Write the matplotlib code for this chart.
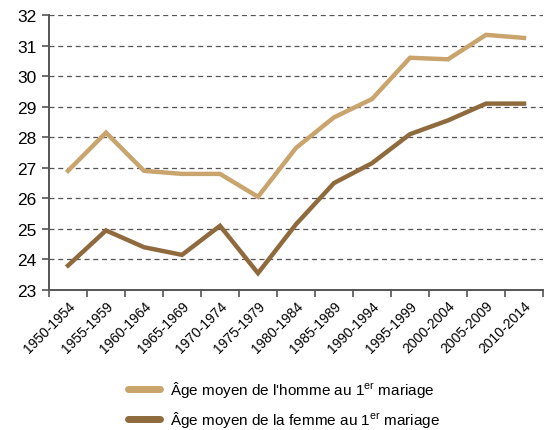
import matplotlib
matplotlib.use('Agg')
import matplotlib.pyplot as plt
from matplotlib import font_manager
import numpy as np

# Data
PERIODS = ['1950-1954', '1955-1959', '1960-1964', '1965-1969', '1970-1974',
           '1975-1979', '1980-1984', '1985-1989', '1990-1994', '1995-1999',
           '2000-2004', '2005-2009', '2010-2014']
AGE_MEN = [26.9, 28.15, 26.9, 26.8, 26.8, 26.05, 27.65, 28.65, 29.25, 30.6,
           30.55, 31.35, 31.25]
AGE_WOMEN = [23.8, 24.95, 24.4, 24.15, 25.1, 23.55, 25.15, 26.5, 27.15, 28.1,
             28.55, 29.1, 29.1]
LABEL_MEN = "Âge moyen de l'homme au 1$^{er}$ mariage"
LABEL_WOMEN = "Âge moyen de la femme au 1$^{er}$ mariage"

# Fonts: narrow sans if available
names = {f.name for f in font_manager.fontManager.ttflist}
family = 'Liberation Sans Narrow' if 'Liberation Sans Narrow' in names else 'Liberation Sans'
plt.rcParams['font.family'] = [family, 'DejaVu Sans']
plt.rcParams['mathtext.default'] = 'regular'

COL_MEN = '#c9a46d'
COL_WOMEN = '#8e6a3c'
AXIS_COL = '#555555'

fig = plt.figure(figsize=(5.49, 4.31), dpi=100)
ax = fig.add_axes([49/549, 1-291/431, (543-49)/549, (291-16)/431])

x = np.arange(len(PERIODS))
ax.plot(x, AGE_MEN, color=COL_MEN, lw=3.2, label=LABEL_MEN, solid_joinstyle='miter')
ax.plot(x, AGE_WOMEN, color=COL_WOMEN, lw=3.2, label=LABEL_WOMEN, solid_joinstyle='miter')

ax.set_xlim(-0.5, len(PERIODS)-0.5)
ax.set_ylim(23, 32)
ax.set_yticks(np.arange(23, 33, 1))
ax.yaxis.grid(True, linestyle=(0, (4, 3)), color='#555555', lw=0.9)
ax.set_axisbelow(True)

# tick marks at boundaries, labels at centres
ax.set_xticks(np.arange(-0.5, len(PERIODS), 1))
ax.set_xticklabels([])
ax.set_xticks(x, minor=True)
ax.set_xticklabels(PERIODS, minor=True, rotation=45, ha='right',
                   rotation_mode='anchor', fontsize=10)
ax.tick_params(axis='x', which='minor', length=0, pad=6)
ax.tick_params(axis='x', which='major', length=5, color=AXIS_COL, width=1.2)
ax.tick_params(axis='y', length=5, color=AXIS_COL, width=1.2, labelsize=12.5, pad=4)

for s in ['top', 'right']:
    ax.spines[s].set_visible(False)
for s in ['left', 'bottom']:
    ax.spines[s].set_color(AXIS_COL)
    ax.spines[s].set_linewidth(1.4)

leg = fig.legend(loc='lower left', bbox_to_anchor=(114/549, -0.03), frameon=False,
                 fontsize=11, handlelength=2.1, handletextpad=0.65, labelspacing=0.65)
for line in leg.get_lines():
    line.set_linewidth(5)
    line.set_solid_capstyle('round')

plt.savefig('out.png', dpi=100)
